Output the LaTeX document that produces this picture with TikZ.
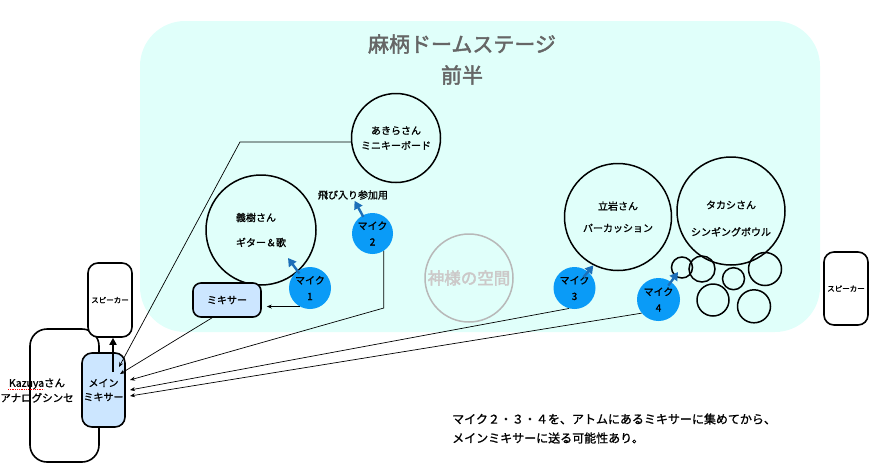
\documentclass[tikz,border=0pt]{standalone}
\usepackage{fontspec}
\setmainfont{Noto Sans CJK JP}[FakeBold=1.2]
\newfontfamily\titlefont{Noto Sans CJK JP}[FakeBold=2.2]
\usetikzlibrary{arrows.meta}
\definecolor{stagecol}{HTML}{E0FFFA}
\definecolor{micblue}{HTML}{0A9BF7}
\definecolor{arrowblue}{HTML}{1C6FB8}
\definecolor{mixblue}{HTML}{CCE6FF}
\definecolor{titlegray}{HTML}{666666}
\definecolor{godline}{HTML}{B8B8B8}
\definecolor{godtext}{HTML}{CCC8C8}
\tikzset{
 perf/.style={circle, draw, line width=1.5pt, inner sep=0pt, align=center, font=\fontsize{10}{15}\selectfont},
 smallc/.style={circle, draw, line width=1.5pt, inner sep=0pt},
 mic/.style={circle, fill=micblue, inner sep=0pt, minimum size=42pt, align=center, font=\fontsize{10}{16}\selectfont},
 box/.style={draw, line width=1.6pt, rounded corners=10pt, inner sep=0pt, align=center},
 conn/.style={line width=0.7pt, -{Stealth[length=5pt,width=4pt]}},
 micarrow/.style={arrowblue, line width=2.4pt, -{Triangle[length=8pt,width=9pt]}},
 thickarr/.style={line width=1.8pt, -{Triangle[length=7pt,width=7pt]}},
}
\begin{document}
\begin{tikzpicture}[x=1pt,y=-1pt]
\useasboundingbox (0,0) rectangle (892,469);
% stage
\node[fill=stagecol, rounded corners=45pt, minimum width=680pt, minimum height=311pt, inner sep=0pt] (stage) at (480,176.5) {};
\node[font=\fontsize{21}{31}\selectfont\titlefont, text=titlegray, align=center] (title) at (462,59.5) {麻柄ドームステージ\\前半};
% performers
\node[perf, minimum size=89pt] (akira) at (396,138) {あきらさん\\ミニキーボード};
\node[perf, minimum size=110pt, align=left] (yoshiki) at (261,230) {義樹さん\\[10pt]ギター＆歌};
\node[perf, minimum size=107pt] (tateiwa) at (618,217) {立岩さん\\[7pt]パーカッション};
\node[perf, minimum size=108pt] (takashi) at (731,211) {};
\node[font=\fontsize{10}{15}\selectfont, align=center] (takashitext) at (731,218.5) {タカシさん\\[12pt]シンギングボウル};
\node[circle, draw=godline, line width=1.5pt, minimum size=88pt, inner sep=0pt, text=godtext, font=\fontsize{16.5}{20}\selectfont\titlefont] (god) at (469,278) {神様の空間};
% singing bowls
\node[smallc, minimum size=21pt] (s1) at (682,267.5) {};
\node[smallc, minimum size=26pt] (s2) at (702,269) {};
\node[smallc, minimum size=22pt] (s3) at (733.5,278.7) {};
\node[smallc, minimum size=33pt] (s4) at (765,269) {};
\node[smallc, minimum size=32pt] (s5) at (713,300) {};
\node[smallc, minimum size=33pt] (s6) at (754,306.3) {};
% mics
\node[mic] (mic1) at (310,288) {マイク\\1};
\node[mic, minimum size=41pt] (mic2) at (372.5,233.5) {マイク\\2};
\node[mic] (mic3) at (574.5,288) {マイク\\3};
\node[mic, minimum size=43pt] (mic4) at (658.5,299.5) {マイク\\4};
\node[font=\fontsize{10}{12}\selectfont, inner sep=1pt] (tobi) at (353,195) {飛び入り参加用};
% boxes
\node[box, fill=mixblue, minimum width=68pt, minimum height=34pt, rounded corners=8pt, font=\fontsize{10}{12}\selectfont] (mixer) at (227,300) {ミキサー};
\node[box, fill=white, minimum width=69pt, minimum height=133pt, rounded corners=17pt] (kazuya) at (64.5,395.5) {};
\node[box, fill=white, minimum width=44pt, minimum height=74pt, font=\fontsize{7.5}{9}\selectfont] (spkL) at (110,300) {スピーカー};
\node[box, fill=mixblue, minimum width=43pt, minimum height=74pt, font=\fontsize{10}{14}\selectfont] (main) at (103.5,390) {メイン\\ミキサー};
\node[box, fill=white, minimum width=44pt, minimum height=73pt, font=\fontsize{7.5}{9}\selectfont] (spkR) at (846,288.5) {スピーカー};
\node[font=\fontsize{10.5}{15}\selectfont, align=center] (kztext) at (37,390.5) {Kazuyaさん\\アナログシンセ};
\draw[red, densely dotted, line width=0.8pt] (8,389.5) -- (44,389.5);
% note
\node[font=\fontsize{12}{19}\selectfont, align=left, anchor=west, inner sep=0pt] (note) at (452,428.5) {マイク２・３・４を、アトムにあるミキサーに集めてから、\\メインミキサーに送る可能性あり。};
% coordinates
\coordinate (akbend) at (240,142);
\coordinate (in1) at (119,367);
\coordinate (in2) at (120,374);
\coordinate (m2bend) at (383,308);
\coordinate (in3) at (130,380);
\coordinate (in4) at (130,390);
\coordinate (in5) at (130,396);
\coordinate (tip1) at (288,258);
\coordinate (tip4) at (678,272);
\coordinate (mmtop) at (113,372);
% connectors
\draw[conn] (akira.185) -- (akira.185 -| akbend) -- (in1);
\draw[conn] (mixer.230) -- (in2);
\draw[conn] (mic2.-57) -- (mic2.-57 |- m2bend) -- (in3);
\draw[conn] (mic3.255) -- (in4);
\draw[conn] (mic4.219) -- (in5);
\draw[conn, shorten >=5pt] (mic1.241) -- (mic1.241 -| mixer.east);
\draw[thickarr] (mmtop) -- (mmtop |- spkL.south);
\draw[micarrow, shorten <=18pt] (mic1.center) -- (tip1);
\draw[micarrow, shorten <=19pt] (mic2.center) -- (tobi.-75);
\draw[micarrow, shorten <=14pt] (mic3.center) -- (tateiwa.243);
\draw[micarrow, shorten <=17pt] (mic4.center) -- (tip4);
\end{tikzpicture}
\end{document}
